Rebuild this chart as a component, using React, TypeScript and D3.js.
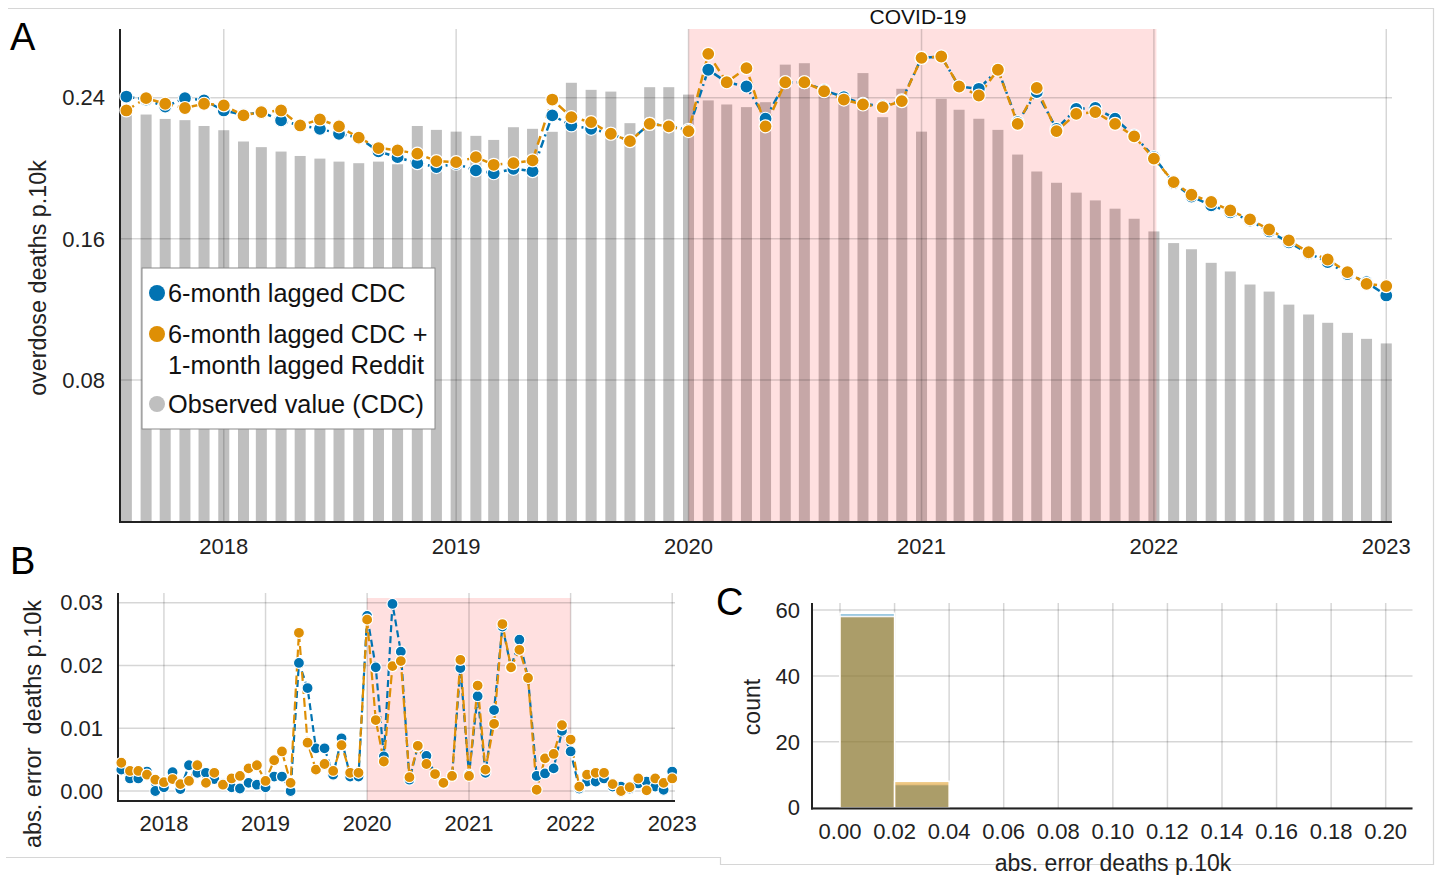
import * as d3 from "d3";

const FONT = "'Liberation Sans', Arial, Helvetica, sans-serif";
const BLUE = "#0173b2";
const ORANGE = "#de8f05";
const GREY = "#bfbfbf";
const GRID = "rgba(0,0,0,0.16)";

// monthly series, Aug 2017 .. Jan 2023
const months = d3.timeMonth.range(new Date(2017, 7, 1), new Date(2023, 1, 1));

const observed = [
  0.233, 0.2305, 0.228, 0.2273, 0.224,
  0.2216, 0.2152, 0.212, 0.2095, 0.207, 0.2055, 0.2038, 0.2029, 0.2038, 0.2023, 0.224, 0.2218,
  0.2208, 0.2184, 0.2161, 0.2233, 0.2224, 0.2207, 0.2485, 0.2445, 0.2435, 0.2256, 0.246, 0.246,
  0.2418, 0.2385, 0.2362, 0.2347, 0.2375, 0.2588, 0.2596, 0.245, 0.2426, 0.254, 0.229, 0.2451,
  0.2208, 0.2394, 0.2332, 0.2281, 0.2218, 0.2078, 0.1982, 0.1918, 0.1862, 0.1818, 0.1771, 0.1714,
  0.1642, 0.1576, 0.1541, 0.1464, 0.1415, 0.1341, 0.1301, 0.1227, 0.1171, 0.1124, 0.1067, 0.1033,
  0.1007,
];

const predCdc = [
  0.2407, 0.239, 0.235, 0.2398, 0.2385,
  0.2328, 0.2302, 0.2319, 0.2272, 0.2243, 0.2224, 0.2196, 0.2174, 0.2096, 0.2063, 0.2029, 0.2007,
  0.2026, 0.1988, 0.1972, 0.1997, 0.1984, 0.23, 0.2243, 0.2224, 0.2196, 0.2156, 0.2252, 0.2238,
  0.2218, 0.2559, 0.2488, 0.2464, 0.2281, 0.2488, 0.2488, 0.2442, 0.2403, 0.2366, 0.2352, 0.2385,
  0.2626, 0.2634, 0.2464, 0.2451, 0.2559, 0.2262, 0.2432, 0.2224, 0.2337, 0.2343, 0.2281, 0.2186,
  0.2064, 0.1916, 0.184, 0.179, 0.175, 0.1704, 0.1642, 0.158, 0.1518, 0.1468, 0.14, 0.1354,
  0.1279,
];

const predReddit = [
  0.2328, 0.2398, 0.2366, 0.2342, 0.2366,
  0.2357, 0.23, 0.2319, 0.2328, 0.2243, 0.2277, 0.2238, 0.2174, 0.2115, 0.2102, 0.2083, 0.2041,
  0.2035, 0.2063, 0.202, 0.2029, 0.2045, 0.239, 0.229, 0.2262, 0.2196, 0.2154, 0.2252, 0.2238,
  0.2211, 0.2649, 0.2488, 0.2568, 0.2238, 0.2488, 0.2488, 0.2437, 0.239, 0.2362, 0.2347, 0.2381,
  0.2626, 0.2634, 0.2464, 0.2413, 0.2559, 0.2252, 0.2456, 0.2211, 0.2309, 0.2319, 0.2252, 0.2181,
  0.2055, 0.1922, 0.185, 0.1809, 0.1761, 0.171, 0.1653, 0.1591, 0.1524, 0.1483, 0.1411, 0.1345,
  0.1332,
];

const errCdc = [
  0.0034, 0.002, 0.002, 0.0031, 0.0,
  0.0006, 0.003, 0.0003, 0.0041, 0.0029, 0.0029, 0.0019, 0.0011, 0.0006, 0.0004, 0.0013, 0.001,
  0.0006, 0.0023, 0.0023, 0.0, 0.0204, 0.0164, 0.0068, 0.0068, 0.0026, 0.0084, 0.0023, 0.0023,
  0.0279, 0.0197, 0.0055, 0.0298, 0.0222, 0.0018, 0.0071, 0.0056, 0.0027, 0.0013, 0.0024, 0.0196,
  0.0026, 0.0151, 0.0029, 0.0129, 0.0262, 0.0197, 0.0241, 0.018, 0.0024, 0.0028, 0.0036, 0.0096,
  0.0063, 0.0004, 0.0015, 0.0015, 0.002, 0.0007, 0.0007, 0.0004, 0.0012, 0.0015, 0.0007, 0.0002,
  0.0031,
];

const errReddit = [
  0.0045, 0.0032, 0.0032, 0.0026, 0.0018,
  0.0014, 0.0019, 0.0011, 0.0016, 0.0041, 0.0013, 0.0029, 0.001, 0.002, 0.0024, 0.0036, 0.0041,
  0.0016, 0.0049, 0.0063, 0.0013, 0.0252, 0.0077, 0.0034, 0.0043, 0.0032, 0.0073, 0.0029, 0.0029,
  0.0273, 0.0113, 0.0047, 0.0199, 0.0207, 0.0022, 0.0072, 0.0043, 0.0027, 0.0013, 0.0024, 0.0209,
  0.0024, 0.0168, 0.0034, 0.0107, 0.0266, 0.0197, 0.0225, 0.018, 0.0002, 0.0052, 0.0059, 0.0105,
  0.0082, 0.0007, 0.0026, 0.0029, 0.0029, 0.0011, 0.0, 0.0006, 0.002, 0.0001, 0.002, 0.0013,
  0.002,
];

// histogram of absolute errors
const binEdges = [0, 0.02, 0.04];
const histCdc = [59, 7];
const histReddit = [58, 8];

const yearTicks = [2018, 2019, 2020, 2021, 2022, 2023];
const yTicksA = [0.08, 0.16, 0.24];
const yTicksB = [0, 0.01, 0.02, 0.03];
const xTicksC = d3.range(0, 11).map((i) => i * 0.02);
const yTicksC = [0, 20, 40, 60];

const covidStart = new Date(2020, 0, 1);
const covidEnd = new Date(2022, 0, 5);

type Pt = { d: Date; v: number };
const series = (vals: number[]): Pt[] => vals.map((v, i) => ({ d: months[i], v }));

function Dots({ data, x, y, color, r }: any) {
  return (
    <g>
      {data.map((p: Pt, i: number) => (
        <circle key={i} cx={x(p.d)} cy={y(p.v)} r={r} fill={color} stroke="#fff" strokeWidth={1.2} />
      ))}
    </g>
  );
}

export default function App() {
  // ---- panel A
  const xA = d3.scaleTime().domain([new Date(2017, 6, 22), new Date(2023, 0, 10)]).range([120, 1392]);
  const yA = d3.scaleLinear().domain([0, 0.279]).range([521, 29]);
  const lineA = d3.line<Pt>().x((p) => xA(p.d)).y((p) => yA(p.v));
  const barW = 11;

  // ---- panel B
  const xB = d3.scaleTime().domain([new Date(2017, 6, 20), new Date(2023, 0, 11)]).range([118, 675]);
  const yB = d3.scaleLinear().domain([0, 0.03]).range([791, 602.7]);
  const lineB = d3.line<Pt>().x((p) => xB(p.d)).y((p) => yB(p.v));

  // ---- panel C
  const xC = d3.scaleLinear().domain([0, 0.2]).range([840, 1385.7]);
  const yC = d3.scaleLinear().domain([0, 60]).range([807.7, 610]);

  const fmt2 = d3.format(".2f");

  const legend = [
    { c: BLUE, lines: ["6-month lagged CDC"], y: 293 },
    { c: ORANGE, lines: ["6-month lagged CDC +", "1-month lagged Reddit"], y: 334 },
    { c: GREY, lines: ["Observed value (CDC)"], y: 404 },
  ];

  return (
    <div style={{ position: "absolute", left: 0, top: 0 }}>
      <svg width={1439} height={875} style={{ display: "block", background: "#fff", fontFamily: FONT }}>
        {/* frame lines */}
        <g stroke="#d6d6d6" strokeWidth={1.2} fill="none">
          <polyline points="8,8.5 1433.5,8.5 1433.5,864.5 720.5,864.5 720.5,857.5 6,857.5" />
        </g>

        {/* ================= Panel A ================= */}
        <g>
          {observed.map((v, i) => (
            <rect key={i} x={xA(months[i]) - barW / 2} y={yA(v)} width={barW} height={yA(0) - yA(v)} fill={GREY} />
          ))}
          <rect x={xA(covidStart)} y={29} width={xA(covidEnd) - xA(covidStart)} height={521 - 29} fill="rgba(255,0,0,0.12)" />
          {yTicksA.map((t) => (
            <line key={t} x1={120} x2={1392} y1={yA(t)} y2={yA(t)} stroke={GRID} strokeWidth={1.5} />
          ))}
          {yearTicks.map((yr) => (
            <line key={yr} x1={xA(new Date(yr, 0, 1))} x2={xA(new Date(yr, 0, 1))} y1={29} y2={521} stroke={GRID} strokeWidth={1.5} />
          ))}
          <line x1={120} x2={120} y1={29} y2={523} stroke="#222" strokeWidth={2} />
          <line x1={119} x2={1392} y1={522} y2={522} stroke="#222" strokeWidth={2} />

          <path d={lineA(series(predCdc)) || ""} fill="none" stroke={BLUE} strokeWidth={2.5} strokeDasharray="8,4,2,4" />
          <path d={lineA(series(predReddit)) || ""} fill="none" stroke={ORANGE} strokeWidth={2.5} strokeDasharray="9,5" />
          <Dots data={series(predCdc)} x={xA} y={yA} color={BLUE} r={6.5} />
          <Dots data={series(predReddit)} x={xA} y={yA} color={ORANGE} r={6.5} />

          {yTicksA.map((t) => (
            <text key={t} x={105} y={yA(t)} dy="0.35em" textAnchor="end" fontSize={22} fill="#222">
              {fmt2(t)}
            </text>
          ))}
          {yearTicks.map((yr) => (
            <text key={yr} x={xA(new Date(yr, 0, 1))} y={546} dy="0.35em" textAnchor="middle" fontSize={22} fill="#222">
              {yr}
            </text>
          ))}
          <text transform="translate(38,278) rotate(-90)" textAnchor="middle" dy="0.35em" fontSize={23.3} fill="#222">
            overdose deaths p.10k
          </text>
          <text x={918} y={17} dy="0.35em" textAnchor="middle" fontSize={21} fill="#111">
            COVID-19
          </text>

          {/* legend */}
          <rect x={142} y={268} width={293} height={161} fill="#fff" stroke="#8a8a8a" strokeWidth={1} />
          {legend.map((e) => (
            <g key={e.y}>
              <circle cx={157} cy={e.y} r={8} fill={e.c} />
              {e.lines.map((s, j) => (
                <text key={j} x={168} y={e.y + j * 31} dy="0.36em" fontSize={25.3} fill="#111">
                  {s}
                </text>
              ))}
            </g>
          ))}
          <text x={10} y={50} fontSize={38} fill="#000">A</text>
        </g>

        {/* ================= Panel B ================= */}
        <g>
          <rect x={xB(new Date(2020, 0, 1))} y={598} width={xB(new Date(2022, 0, 1)) - xB(new Date(2020, 0, 1))} height={801 - 598} fill="rgba(255,0,0,0.12)" />
          {yTicksB.map((t) => (
            <line key={t} x1={118} x2={675} y1={yB(t)} y2={yB(t)} stroke={GRID} strokeWidth={1.5} />
          ))}
          {yearTicks.map((yr) => (
            <line key={yr} x1={xB(new Date(yr, 0, 1))} x2={xB(new Date(yr, 0, 1))} y1={593} y2={801} stroke={GRID} strokeWidth={1.5} />
          ))}
          <line x1={118} x2={118} y1={593} y2={802} stroke="#222" strokeWidth={2} />
          <line x1={117} x2={675} y1={801} y2={801} stroke="#222" strokeWidth={2} />

          <path d={lineB(series(errCdc)) || ""} fill="none" stroke={BLUE} strokeWidth={2.2} strokeDasharray="7,4" />
          <path d={lineB(series(errReddit)) || ""} fill="none" stroke={ORANGE} strokeWidth={2.2} strokeDasharray="9,4" />
          <Dots data={series(errCdc)} x={xB} y={yB} color={BLUE} r={5.5} />
          <Dots data={series(errReddit)} x={xB} y={yB} color={ORANGE} r={5.5} />

          {yTicksB.map((t) => (
            <text key={t} x={103} y={yB(t)} dy="0.35em" textAnchor="end" fontSize={22} fill="#222">
              {fmt2(t)}
            </text>
          ))}
          {yearTicks.map((yr) => (
            <text key={yr} x={xB(new Date(yr, 0, 1))} y={823} dy="0.35em" textAnchor="middle" fontSize={22} fill="#222">
              {yr}
            </text>
          ))}
          <text transform="translate(33,724) rotate(-90)" textAnchor="middle" dy="0.35em" fontSize={23.5} fill="#222" style={{ whiteSpace: "pre" }}>
            {"abs. error  deaths p.10k"}
          </text>
          <text x={10} y={574} fontSize={38} fill="#000">B</text>
        </g>

        {/* ================= Panel C ================= */}
        <g>
          {xTicksC.map((t, i) => (
            <line key={i} x1={xC(t)} x2={xC(t)} y1={603} y2={808} stroke={GRID} strokeWidth={1.5} />
          ))}
          {yTicksC.map((t) => (
            <line key={t} x1={812} x2={1412.5} y1={yC(t)} y2={yC(t)} stroke={GRID} strokeWidth={1.5} />
          ))}
          {histCdc.map((c, i) => (
            <rect key={"b" + i} x={xC(binEdges[i])} y={yC(c)} width={xC(binEdges[i + 1]) - xC(binEdges[i])} height={yC(0) - yC(c)} fill={BLUE} fillOpacity={0.4} stroke="#fff" strokeWidth={1.5} />
          ))}
          {histReddit.map((c, i) => (
            <rect key={"o" + i} x={xC(binEdges[i])} y={yC(c)} width={xC(binEdges[i + 1]) - xC(binEdges[i])} height={yC(0) - yC(c)} fill={ORANGE} fillOpacity={0.5} stroke="#fff" strokeWidth={1.5} />
          ))}
          {/* darken the overlap to the muted olive of the reference */}
          {histCdc.map((c, i) => {
            const h = Math.min(c, histReddit[i]);
            return (
              <rect key={"x" + i} x={xC(binEdges[i]) + 0.75} y={yC(h)} width={xC(binEdges[i + 1]) - xC(binEdges[i]) - 1.5} height={yC(0) - yC(h)} fill="#3a3a20" fillOpacity={0.12} />
            );
          })}
          <line x1={812} x2={812} y1={603} y2={809.5} stroke="#222" strokeWidth={2} />
          <line x1={811} x2={1412.5} y1={808.5} y2={808.5} stroke="#222" strokeWidth={2} />

          {xTicksC.map((t, i) => (
            <text key={i} x={xC(t)} y={831} dy="0.35em" textAnchor="middle" fontSize={22} fill="#222">
              {fmt2(t)}
            </text>
          ))}
          {yTicksC.map((t) => (
            <text key={t} x={800} y={yC(t)} dy="0.35em" textAnchor="end" fontSize={22} fill="#222">
              {t}
            </text>
          ))}
          <text x={1113} y={863} dy="0.35em" textAnchor="middle" fontSize={23} fill="#222">
            abs. error deaths p.10k
          </text>
          <text transform="translate(752,707) rotate(-90)" textAnchor="middle" dy="0.35em" fontSize={23} fill="#222">
            count
          </text>
          <text x={716} y={615} fontSize={38} fill="#000">C</text>
        </g>
      </svg>
    </div>
  );
}
